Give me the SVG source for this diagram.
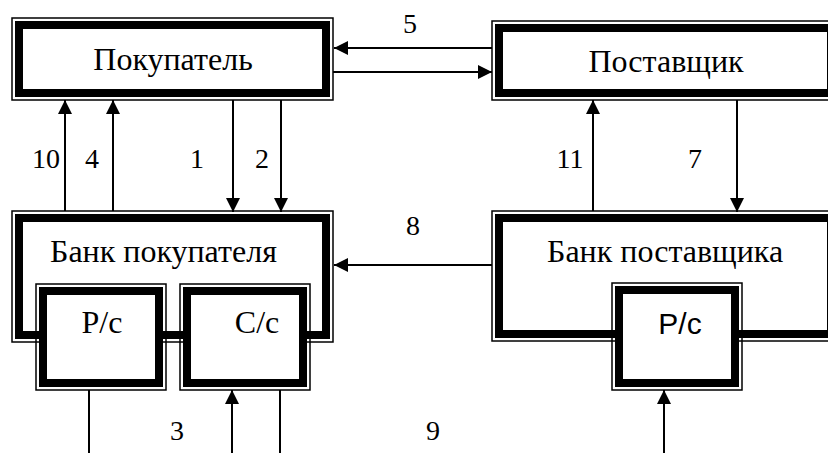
<svg xmlns="http://www.w3.org/2000/svg" width="828" height="453" viewBox="0 0 828 453">
<style>
.thin{fill:none;stroke:#000;stroke-width:1.5}
.thick{fill:#fff;stroke:#000;stroke-width:8}
.lbl{font-family:"Liberation Serif","Times New Roman",serif;font-size:32px;fill:#000}
.num{font-family:"Liberation Serif","Times New Roman",serif;font-size:28px;fill:#000;text-anchor:middle}
.sans{font-family:"Liberation Sans",Arial,sans-serif;font-size:30px;fill:#000}
.c{fill:none;stroke:#000;stroke-width:2}
</style>
<defs>
<marker id="ah" markerUnits="userSpaceOnUse" markerWidth="14" markerHeight="14" viewBox="0 0 14 14" refX="14" refY="7" orient="auto">
<path d="M0,0 L14,7 L0,14 Z" fill="#000"/>
</marker>
</defs>
<rect width="828" height="453" fill="#fff"/>
<g id="pokupatel">
<rect class="thin" x="12" y="18" width="321" height="82"/>
<rect class="thick" x="19" y="25" width="307" height="68"/>
<text class="lbl" x="173" y="70" text-anchor="middle">Покупатель</text>
</g>
<g id="postavshchik">
<rect class="thin" x="492" y="21" width="346" height="79"/>
<rect class="thick" x="499" y="28" width="332" height="65"/>
<text class="lbl" x="666" y="72" text-anchor="middle">Поставщик</text>
</g>
<g id="bank-pokupatelya">
<rect class="thin" x="12" y="211" width="321" height="131"/>
<rect class="thick" x="19" y="218" width="307" height="117"/>
<text class="lbl" x="50" y="262">Банк покупателя</text>
</g>
<g id="bank-postavshchika">
<rect class="thin" x="492" y="211" width="346" height="130"/>
<rect class="thick" x="499" y="218" width="332" height="116"/>
<text class="lbl" x="547" y="262">Банк поставщика</text>
</g>
<g id="rs-pokupatelya">
<rect class="thin" x="36" y="284" width="130" height="106"/>
<rect class="thick" x="43" y="291" width="116" height="92"/>
<text class="lbl" x="102" y="333" text-anchor="middle">Р/с</text>
</g>
<g id="ss-pokupatelya">
<rect class="thin" x="180" y="284" width="130" height="106"/>
<rect class="thick" x="187" y="291" width="116" height="92"/>
<text class="lbl" x="257" y="333" text-anchor="middle">С/с</text>
</g>
<g id="rs-postavshchika">
<rect class="thin" x="612" y="283" width="130" height="107"/>
<rect class="thick" x="619" y="290" width="116" height="93"/>
<text class="sans" x="680" y="334" text-anchor="middle">Р/с</text>
</g>
<g id="connectors">
<line class="c" x1="492" y1="48" x2="334" y2="48" marker-end="url(#ah)"/>
<line class="c" x1="333" y1="72" x2="492" y2="72" marker-end="url(#ah)"/>
<line class="c" x1="65" y1="211" x2="65" y2="100" marker-end="url(#ah)"/>
<line class="c" x1="113" y1="211" x2="113" y2="100" marker-end="url(#ah)"/>
<line class="c" x1="233" y1="100" x2="233" y2="212" marker-end="url(#ah)"/>
<line class="c" x1="281" y1="100" x2="281" y2="212" marker-end="url(#ah)"/>
<line class="c" x1="593" y1="211" x2="593" y2="100" marker-end="url(#ah)"/>
<line class="c" x1="737" y1="100" x2="737" y2="212" marker-end="url(#ah)"/>
<line class="c" x1="492" y1="265" x2="334" y2="265" marker-end="url(#ah)"/>
<line class="c" x1="89" y1="390" x2="89" y2="453"/>
<line class="c" x1="232" y1="453" x2="232" y2="390" marker-end="url(#ah)"/>
<line class="c" x1="280" y1="390" x2="280" y2="453"/>
<line class="c" x1="664" y1="453" x2="664" y2="390" marker-end="url(#ah)"/>
</g>
<g id="labels">
<text class="num" x="410" y="33">5</text>
<text class="num" x="46" y="168">10</text>
<text class="num" x="92" y="168">4</text>
<text class="num" x="197" y="168">1</text>
<text class="num" x="262" y="168">2</text>
<text class="num" x="570" y="168">11</text>
<text class="num" x="695" y="168">7</text>
<text class="num" x="413" y="235">8</text>
<text class="num" x="177" y="440">3</text>
<text class="num" x="433" y="440">9</text>
</g>
</svg>
